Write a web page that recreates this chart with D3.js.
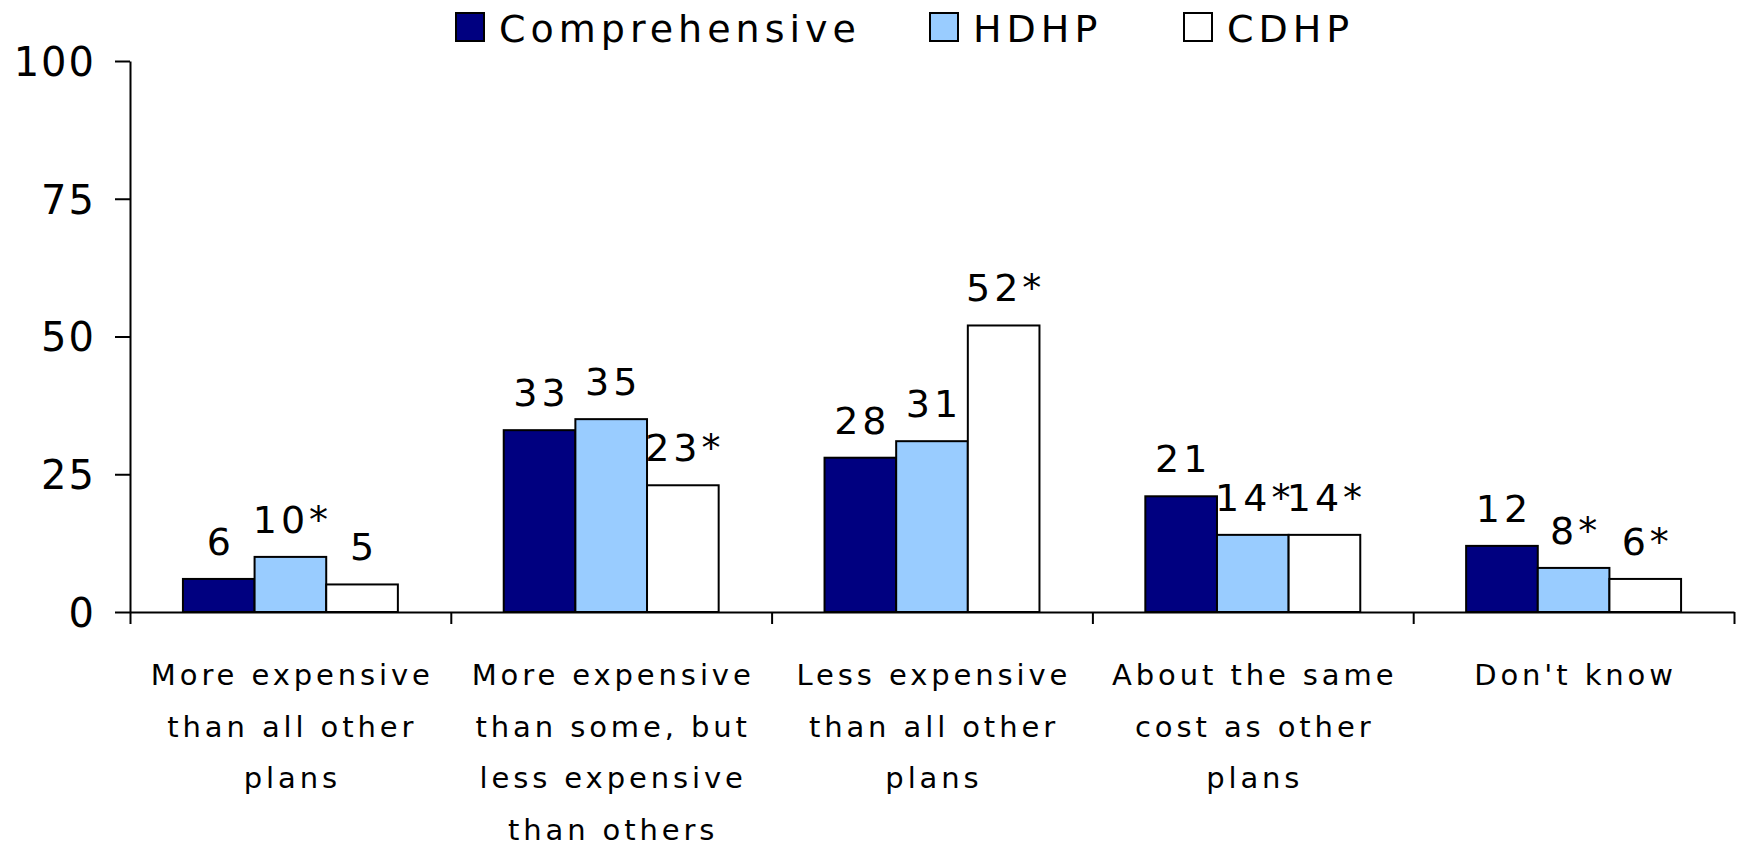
<!DOCTYPE html>
<html>
<head>
<meta charset="utf-8">
<script src="https://cdn.jsdelivr.net/npm/d3@7"></script>
<style>
  html, body { margin: 0; padding: 0; background: #fff; }
  svg { display: block; }
  text { font-family: "DejaVu Sans", sans-serif; fill: #000; }
</style>
</head>
<body>
<svg id="chart" width="1741" height="846"></svg>
<script>
// Categories (wrapped label lines) and series values
const categories = [
  ["More expensive", "than all other", "plans"],
  ["More expensive", "than some, but", "less expensive", "than others"],
  ["Less expensive", "than all other", "plans"],
  ["About the same", "cost as other", "plans"],
  ["Don't know"]
];
const seriesNames = ["Comprehensive", "HDHP", "CDHP"];
const comprehensive = [6, 33, 28, 21, 12];
const hdhp = [10, 35, 31, 14, 8];
const cdhp = [5, 23, 52, 14, 6];
// Data labels; "*" marks significant differences
const comprehensiveLabels = ["6", "33", "28", "21", "12"];
const hdhpLabels = ["10*", "35", "31", "14*", "8*"];
const cdhpLabels = ["5", "23*", "52*", "14*", "6*"];
const yTicks = [0, 25, 50, 75, 100];

const seriesValues = [comprehensive, hdhp, cdhp];
const seriesLabels = [comprehensiveLabels, hdhpLabels, cdhpLabels];
const colors = ["#000080", "#99CCFF", "#FFFFFF"];

const svg = d3.select("#chart");
const plotLeft = 130, plotRight = 1734, plotTop = 61, plotBottom = 612;

const x = d3.scaleBand().domain(d3.range(categories.length)).range([plotLeft, plotRight]).padding(0);
const xs = d3.scaleBand().domain(d3.range(seriesNames.length))
  .range([x.bandwidth() * 0.165, x.bandwidth() * 0.835]).padding(0);
const y = d3.scaleLinear().domain([0, 100]).range([plotBottom, plotTop]);

// Bars
const groups = svg.append("g").selectAll("g")
  .data(categories.map((c, i) => i))
  .join("g")
  .attr("transform", i => `translate(${x(i)},0)`);

const cellData = i => seriesValues.map((vals, s) => ({ s, v: vals[i], label: seriesLabels[s][i] }));

groups.selectAll("rect")
  .data(cellData)
  .join("rect")
  .attr("x", d => xs(d.s))
  .attr("width", xs.bandwidth())
  .attr("y", d => y(d.v))
  .attr("height", d => y(0) - y(d.v))
  .attr("fill", d => colors[d.s])
  .attr("stroke", "#000")
  .attr("stroke-width", 2);

// Value labels (letter-spacing trails the last glyph, so nudge right by half of it)
const valSpacing = 4;
groups.selectAll("text.val")
  .data(cellData)
  .join("text")
  .attr("class", "val")
  .attr("x", d => xs(d.s) + xs.bandwidth() / 2 + valSpacing / 2)
  .attr("y", d => y(d.v) - 24)
  .attr("text-anchor", "middle")
  .style("font-size", "38px")
  .style("letter-spacing", valSpacing + "px")
  .text(d => d.label);

// Y axis
const yAxis = svg.append("g")
  .attr("transform", `translate(${plotLeft},0)`)
  .call(d3.axisLeft(y).tickValues(yTicks).tickSize(15).tickSizeOuter(0).tickPadding(19));
yAxis.selectAll("path, line").attr("stroke", "#000").attr("stroke-width", 2);
yAxis.selectAll("text").style("font-size", "40px").style("letter-spacing", "2px")
  .attr("font-family", null).attr("dy", "0.36em");

// X axis with ticks at category boundaries
const xEdge = d3.scaleLinear().domain([0, categories.length]).range([plotLeft, plotRight]);
const xAxis = svg.append("g")
  .attr("transform", `translate(0,${plotBottom})`)
  .call(d3.axisBottom(xEdge).tickValues(d3.range(categories.length + 1)).tickFormat("").tickSize(12).tickSizeOuter(0));
xAxis.selectAll("path, line").attr("stroke", "#000").attr("stroke-width", 2);

// Category labels
const catSpacing = 3.9;
const catLabels = svg.append("g").selectAll("text")
  .data(categories)
  .join("text")
  .attr("x", (c, i) => x(i) + x.bandwidth() / 2 + catSpacing / 2)
  .attr("y", 685)
  .attr("text-anchor", "middle")
  .style("font-size", "29px")
  .style("letter-spacing", catSpacing + "px");
catLabels.selectAll("tspan")
  .data(c => c)
  .join("tspan")
  .attr("x", function () { return this.parentNode.getAttribute("x"); })
  .attr("dy", (d, j) => j === 0 ? 0 : 51.5)
  .text(d => d);

// Legend
const legendX = [456, 930, 1184];
const legend = svg.append("g").selectAll("g")
  .data(seriesNames)
  .join("g")
  .attr("transform", (d, i) => `translate(${legendX[i]},13)`);
legend.append("rect")
  .attr("width", 28).attr("height", 28)
  .attr("fill", (d, i) => colors[i])
  .attr("stroke", "#000").attr("stroke-width", 2);
legend.append("text")
  .attr("x", 43).attr("y", 29)
  .style("font-size", "38px")
  .style("letter-spacing", "5px")
  .text(d => d);
</script>
</body>
</html>
